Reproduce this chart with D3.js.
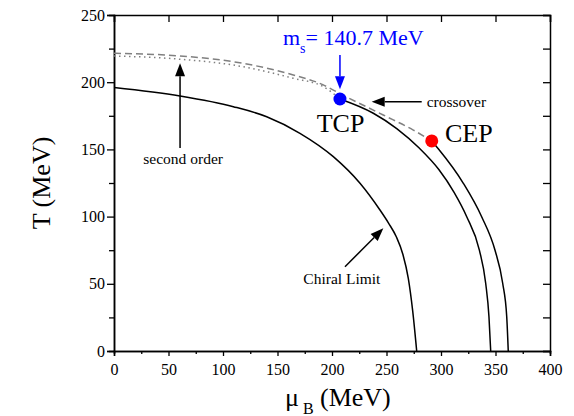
<!DOCTYPE html>
<html>
<head>
<meta charset="utf-8">
<script src="https://cdn.jsdelivr.net/npm/d3@7"></script>
<style>
    body { margin: 0; background: #fff; }
    svg { display: block; font-family: "Liberation Serif", "Times New Roman", serif; }
</style>
</head>
<body>
<div id="chart"></div>
<script>
// Chiral limit phase boundary
var chiralMu = [0, 60.6, 109.5, 140.1, 170.6, 201.2, 225.7, 244, 252, 259, 265, 270, 274, 277.7];
var chiralT  = [196, 189.7, 181.8, 174.3, 162, 144.6, 124.8, 104.9, 95, 85, 72, 54, 30, 0];
// First order line below the TCP
var tcpMu = [207.3, 237.9, 259.4, 280, 298, 312, 323.6, 335.2, 341, 344, 345.6];
var tcpT  = [187.5, 176.9, 165.5, 151, 135, 118, 99.9, 75.1, 50.4, 25.5, 0];
// First order line below the CEP
var cepMu = [291.5, 297.5, 320.5, 337.3, 349.5, 356.6, 360.3, 361.7];
var cepT  = [156.3, 150.5, 124.8, 99.9, 75.1, 50.4, 25.5, 0];
// Crossover (dashed)
var crossMu = [0, 57.5, 118.6, 164.5, 192, 207.3, 247, 274.6, 291.5];
var crossT  = [221.5, 219.7, 214, 205.4, 198, 191.5, 175.6, 164.4, 156.3];
// Second order (dotted)
var secondMu = [0, 57.5, 118.6, 164.5, 192, 207.3];
var secondT  = [219.5, 217.3, 211.5, 202.9, 196.7, 187.5];
// Special points
var pointNames = ["TCP", "CEP"];
var pointMu = [207.3, 291.5];
var pointT  = [187.5, 156.3];
// Ticks
var xTicks = [0, 50, 100, 150, 200, 250, 300, 350, 400];
var yTicks = [0, 50, 100, 150, 200, 250];

var width = 574, height = 416;
var margin = { top: 15, right: 24, bottom: 65, left: 114 };

var svg = d3.select("#chart").append("svg")
    .attr("width", width)
    .attr("height", height);

var x = d3.scaleLinear().domain([0, 400]).range([margin.left, width - margin.right]);
var y = d3.scaleLinear().domain([0, 250]).range([height - margin.bottom, margin.top]);

var zip = function(a, b) {
    return a.map(function(d, i) { return [d, b[i]]; });
};

var line = d3.line()
    .x(function(d) { return x(d[0]); })
    .y(function(d) { return y(d[1]); })
    .curve(d3.curveMonotoneX);

// Axes
var minorX = d3.range(25, 400, 50);
var minorY = d3.range(25, 250, 50);
var allY = d3.range(0, 251, 25);

var styleAxis = function(g) {
    g.select(".domain").attr("stroke", "#000").attr("stroke-width", 1.5);
    g.selectAll(".tick line").attr("stroke", "#000").attr("stroke-width", 1.3);
    g.selectAll(".tick text")
        .attr("fill", "#000")
        .style("font-size", "16px")
        .style("font-family", "Liberation Serif, serif");
};

svg.append("g")
    .attr("transform", "translate(0," + y(0) + ")")
    .call(d3.axisBottom(x).tickValues(xTicks).tickSize(5).tickPadding(8))
    .call(styleAxis);
svg.append("g")
    .attr("transform", "translate(0," + y(0) + ")")
    .call(d3.axisBottom(x).tickValues(minorX).tickSize(3).tickFormat(""))
    .call(styleAxis);
svg.append("g")
    .attr("transform", "translate(" + x(0) + ",0)")
    .call(d3.axisLeft(y).tickValues(yTicks).tickSize(7).tickPadding(2))
    .call(styleAxis);
svg.append("g")
    .attr("transform", "translate(" + x(0) + ",0)")
    .call(d3.axisLeft(y).tickValues(minorY).tickSize(5).tickFormat(""))
    .call(styleAxis);
svg.append("g")
    .attr("transform", "translate(0," + y(250) + ")")
    .call(d3.axisTop(x).tickValues(xTicks).tickSize(-7).tickFormat(""))
    .call(styleAxis);
svg.append("g")
    .attr("transform", "translate(" + x(400) + ",0)")
    .call(d3.axisRight(y).tickValues(allY).tickSize(-7).tickFormat(""))
    .call(styleAxis);

// Axis titles
svg.append("text")
    .attr("transform", "translate(50," + y(125) + ") rotate(-90)")
    .attr("text-anchor", "middle")
    .style("font-size", "26px")
    .text("T (MeV)");
var xTitle = svg.append("text")
    .attr("y", 406)
    .style("font-size", "26px");
xTitle.append("tspan").attr("x", 285).text("\u03bc");
xTitle.append("tspan").attr("x", 303).attr("dy", 8).style("font-size", "16px").text("B");
xTitle.append("tspan").attr("x", 320).attr("dy", -8).text("(MeV)");

// Curves
var curves = svg.append("g").attr("fill", "none");
curves.append("path").attr("d", line(zip(chiralMu, chiralT)))
    .attr("stroke", "#000").attr("stroke-width", 1.5);
curves.append("path").attr("d", line(zip(tcpMu, tcpT)))
    .attr("stroke", "#000").attr("stroke-width", 1.5);
curves.append("path").attr("d", line(zip(cepMu, cepT)))
    .attr("stroke", "#000").attr("stroke-width", 1.5);
curves.append("path").attr("d", line(zip(crossMu, crossT)))
    .attr("stroke", "#808080").attr("stroke-width", 1.5)
    .attr("stroke-dasharray", "7,4");
curves.append("path").attr("d", line(zip(secondMu, secondT)))
    .attr("stroke", "#808080").attr("stroke-width", 1.5)
    .attr("stroke-dasharray", "1.5,3.5");

// TCP and CEP markers
var pointColor = { TCP: "#0000ff", CEP: "#ff0000" };
svg.selectAll("circle.pt")
    .data(pointNames)
    .enter()
    .append("circle")
    .attr("class", "pt")
    .attr("cx", function(d, i) { return x(pointMu[i]); })
    .attr("cy", function(d, i) { return y(pointT[i]); })
    .attr("r", 6.5)
    .attr("fill", function(d) { return pointColor[d]; });

// Arrows (in data units)
var arrow = function(x1, y1, x2, y2, color) {
    var px1 = x(x1), py1 = y(y1), px2 = x(x2), py2 = y(y2);
    var ang = Math.atan2(py2 - py1, px2 - px1);
    var len = 13, half = 5;
    var bx = px2 - len * Math.cos(ang), by = py2 - len * Math.sin(ang);
    svg.append("line")
        .attr("x1", px1).attr("y1", py1)
        .attr("x2", bx).attr("y2", by)
        .attr("stroke", color).attr("stroke-width", 1.5);
    svg.append("path")
        .attr("d", "M" + px2 + "," + py2 +
            "L" + (bx + half * Math.sin(ang)) + "," + (by - half * Math.cos(ang)) +
            "L" + (bx - half * Math.sin(ang)) + "," + (by + half * Math.cos(ang)) + "Z")
        .attr("fill", color);
};
arrow(207.3, 220.2, 207.3, 194.7, "#0000ff");
arrow(60.6, 151, 60.6, 214.1, "#000");
arrow(282.3, 185.5, 236.4, 185.5, "#000");
arrow(211.9, 62.7, 247.1, 91.3, "#000");

// Labels
var msLabel = svg.append("text")
    .attr("x", x(155)).attr("y", y(227.7))
    .attr("fill", "#0000ff")
    .style("font-size", "22px");
msLabel.append("tspan").text("m");
msLabel.append("tspan").attr("dy", 8).style("font-size", "14px").text("s");
msLabel.append("tspan").attr("dy", -8).text("= 140.7 MeV");

svg.append("text").attr("x", x(186)).attr("y", y(163.2))
    .style("font-size", "26px").text("TCP");
svg.append("text").attr("x", x(303.7)).attr("y", y(155.7))
    .style("font-size", "26px").text("CEP");
svg.append("text").attr("x", x(286.9)).attr("y", y(181.8))
    .style("font-size", "15.5px").text("crossover");
svg.append("text").attr("x", x(26.9)).attr("y", y(138.8))
    .style("font-size", "15.5px").text("second order");
svg.append("text").attr("x", x(173.7)).attr("y", y(50.2))
    .style("font-size", "15.5px").text("Chiral Limit");
</script>
</body>
</html>
